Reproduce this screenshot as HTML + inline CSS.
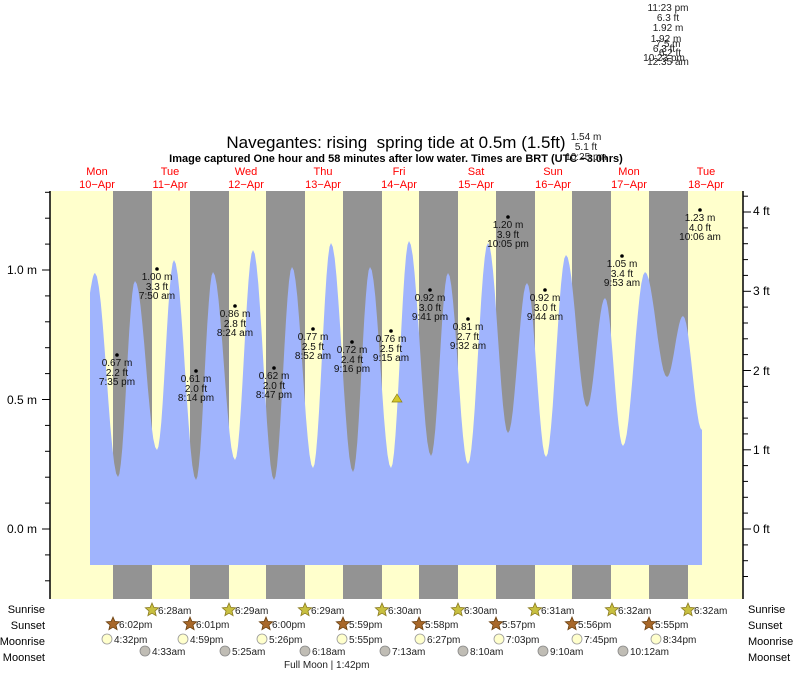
<!DOCTYPE html>
<html><head><meta charset="utf-8"><style>
body{margin:0;background:#fff}
svg{display:block;font-family:"Liberation Sans",sans-serif}
</style></head><body>
<svg id="s" width="793" height="673" viewBox="0 0 793 673" xmlns="http://www.w3.org/2000/svg">
<rect x="50" y="191" width="693" height="408" fill="#ffffcc"/>
<g fill="#939393">
<rect x="113" y="191" width="39" height="408"/><rect x="190" y="191" width="39" height="408"/>
<rect x="266" y="191" width="39" height="408"/><rect x="343" y="191" width="39" height="408"/>
<rect x="419" y="191" width="39" height="408"/><rect x="496" y="191" width="39" height="408"/>
<rect x="572" y="191" width="39" height="408"/><rect x="649" y="191" width="39" height="408"/>
</g>
<path id="tide" fill="#a0b4fd" d=""/>
<g stroke="#000" stroke-width="1.5"><line x1="50" y1="191" x2="50" y2="599"/><line x1="743" y1="191" x2="743" y2="599"/></g>
<g id="ticks" stroke="#000" stroke-width="1"></g>
<g font-size="12" text-anchor="end"><text x="37" y="274">1.0 m</text><text x="37" y="404">0.5 m</text><text x="37" y="533">0.0 m</text></g>
<g font-size="12"><text x="753" y="215">4 ft</text><text x="753" y="295">3 ft</text><text x="753" y="375">2 ft</text><text x="753" y="454">1 ft</text><text x="753" y="533">0 ft</text></g>
<text x="396" y="148" font-size="17" text-anchor="middle" xml:space="preserve" style="white-space:pre">Navegantes: rising  spring tide at 0.5m (1.5ft)</text>
<text x="396" y="162" font-size="11" font-weight="bold" text-anchor="middle">Image captured One hour and 58 minutes after low water. Times are BRT (UTC −3.0hrs)</text>
<g font-size="10" text-anchor="middle" fill="#222">
<text x="586" y="140">1.54 m</text><text x="586" y="150">5.1 ft</text><text x="586" y="160">10:25 pm</text>
<text x="668" y="11">11:23 pm</text><text x="668" y="21">6.3 ft</text><text x="668" y="31">1.92 m</text>
<text x="666" y="42">1.92 m</text><text x="668" y="47">7.5 m</text><text x="664" y="52">6.3 ft</text><text x="670" y="56">6.2 ft</text><text x="664" y="61">10:23 pm</text><text x="668" y="65">12:35 am</text>
</g>
<g font-size="11" fill="#ff0000" text-anchor="middle" id="days"></g>
<g id="lab" font-size="10" text-anchor="middle" fill="#111"></g>
<polygon points="397,394 392,402 402,402" fill="#d4c72a" stroke="#8a7d10" stroke-width="0.7"/>
<g font-size="11" text-anchor="end"><text x="45" y="613">Sunrise</text><text x="45" y="629">Sunset</text><text x="45" y="645">Moonrise</text><text x="45" y="661">Moonset</text></g>
<g font-size="11"><text x="748" y="613">Sunrise</text><text x="748" y="629">Sunset</text><text x="748" y="645">Moonrise</text><text x="748" y="661">Moonset</text></g>
<g id="bot" font-size="10" fill="#222"></g>
<text x="284" y="668" font-size="10" fill="#222">Full Moon | 1:42pm</text>
</svg>
<script>
var ns="http://www.w3.org/2000/svg";
function el(p,t,a,txt){var e=document.createElementNS(ns,t);for(var k in a)e.setAttribute(k,a[k]);if(txt)e.textContent=txt;document.getElementById(p).appendChild(e);return e;}
var P=[[90,293],[95,273],[118,477],[135,281],[157,450],[174,260],[196,480],[213,272],[235,460],[253,250],[274,480],[292,267],[313,468],[331,243],[353,472],[370,267],[391,468],[409,241],[431,456],[448,273],[468,464],[488,243],[508,433],[527,283],[546,457],[566,255],[587,407],[605,298],[623,446],[645,272],[667,377],[683,316],[702,430]];
var d="M90,565 L90,293";
for(var i=0;i<P.length-1;i++){var a=P[i],b=P[i+1];for(var t=1;t<=12;t++){var f=t/12,x=a[0]+(b[0]-a[0])*f;var ff=i==0?Math.sin(f*Math.PI/2):(1-Math.cos(f*Math.PI))/2;var y=a[1]+(b[1]-a[1])*ff;d+=" L"+x.toFixed(1)+","+y.toFixed(1);}}
d+=" L702,565 Z";document.getElementById('tide').setAttribute('d',d);
for(var k=-2;k<=13;k++){var y=529-k*25.9;if(y<191||y>599)continue;var big=k%5==0;el('ticks','line',{x1:big?42:45,y1:y.toFixed(1),x2:50,y2:y.toFixed(1)});}
for(var k=-3;k<=21;k++){var y=529-k*15.85;if(y<191||y>599)continue;var big=k%5==0;el('ticks','line',{x1:743,y1:y.toFixed(1),x2:big?751:748,y2:y.toFixed(1)});}
var D=[["Mon","10\u2212Apr",97],["Tue","11\u2212Apr",170],["Wed","12\u2212Apr",246],["Thu","13\u2212Apr",323],["Fri","14\u2212Apr",399],["Sat","15\u2212Apr",476],["Sun","16\u2212Apr",553],["Mon","17\u2212Apr",629],["Tue","18\u2212Apr",706]];
D.forEach(function(q){el('days','text',{x:q[2],y:175},q[0]);el('days','text',{x:q[2],y:188},q[1]);});
var L=[[117,355,"0.67 m","2.2 ft","7:35 pm"],[157,269,"1.00 m","3.3 ft","7:50 am"],[196,371,"0.61 m","2.0 ft","8:14 pm"],[235,306,"0.86 m","2.8 ft","8:24 am"],[274,368,"0.62 m","2.0 ft","8:47 pm"],[313,329,"0.77 m","2.5 ft","8:52 am"],[352,342,"0.72 m","2.4 ft","9:16 pm"],[391,331,"0.76 m","2.5 ft","9:15 am"],[430,290,"0.92 m","3.0 ft","9:41 pm"],[468,319,"0.81 m","2.7 ft","9:32 am"],[508,217,"1.20 m","3.9 ft","10:05 pm"],[545,290,"0.92 m","3.0 ft","9:44 am"],[622,256,"1.05 m","3.4 ft","9:53 am"],[700,210,"1.23 m","4.0 ft","10:06 am"]];
L.forEach(function(q){el('lab','circle',{cx:q[0],cy:q[1],r:1.8,fill:"#000"});el('lab','text',{x:q[0],y:q[1]+11},q[2]);el('lab','text',{x:q[0],y:q[1]+21},q[3]);el('lab','text',{x:q[0],y:q[1]+30},q[4]);});
function star(cx,cy,fill,stroke){var p=[];for(var i=0;i<10;i++){var r=i%2?3.2:7,a=-Math.PI/2+i*Math.PI/5;p.push((cx+r*Math.cos(a)).toFixed(1)+","+(cy+r*Math.sin(a)).toFixed(1));}el('bot','polygon',{points:p.join(" "),fill:fill,stroke:stroke,"stroke-width":0.8});}
var sr=[[152,"6:28am"],[229,"6:29am"],[305,"6:29am"],[382,"6:30am"],[458,"6:30am"],[535,"6:31am"],[612,"6:32am"],[688,"6:32am"]];
sr.forEach(function(q){star(q[0],610,"#c8c040","#8a7a20");el('bot','text',{x:q[0]+6,y:614},q[1]);});
var ss=[[113,"6:02pm"],[190,"6:01pm"],[266,"6:00pm"],[343,"5:59pm"],[419,"5:58pm"],[496,"5:57pm"],[572,"5:56pm"],[649,"5:55pm"]];
ss.forEach(function(q){star(q[0],624,"#a8682a","#6a4010");el('bot','text',{x:q[0]+6,y:628},q[1]);});
var mr=[[107,"4:32pm"],[183,"4:59pm"],[262,"5:26pm"],[342,"5:55pm"],[420,"6:27pm"],[499,"7:03pm"],[577,"7:45pm"],[656,"8:34pm"]];
mr.forEach(function(q){el('bot','circle',{cx:q[0],cy:639,r:5,fill:"#ffffcc",stroke:"#999","stroke-width":0.8});el('bot','text',{x:q[0]+7,y:643},q[1]);});
var ms=[[145,"4:33am"],[225,"5:25am"],[305,"6:18am"],[385,"7:13am"],[463,"8:10am"],[543,"9:10am"],[623,"10:12am"]];
ms.forEach(function(q){el('bot','circle',{cx:q[0],cy:651,r:5,fill:"#c0bdb5",stroke:"#888","stroke-width":0.8});el('bot','text',{x:q[0]+7,y:655},q[1]);});
</script>
</body></html>
